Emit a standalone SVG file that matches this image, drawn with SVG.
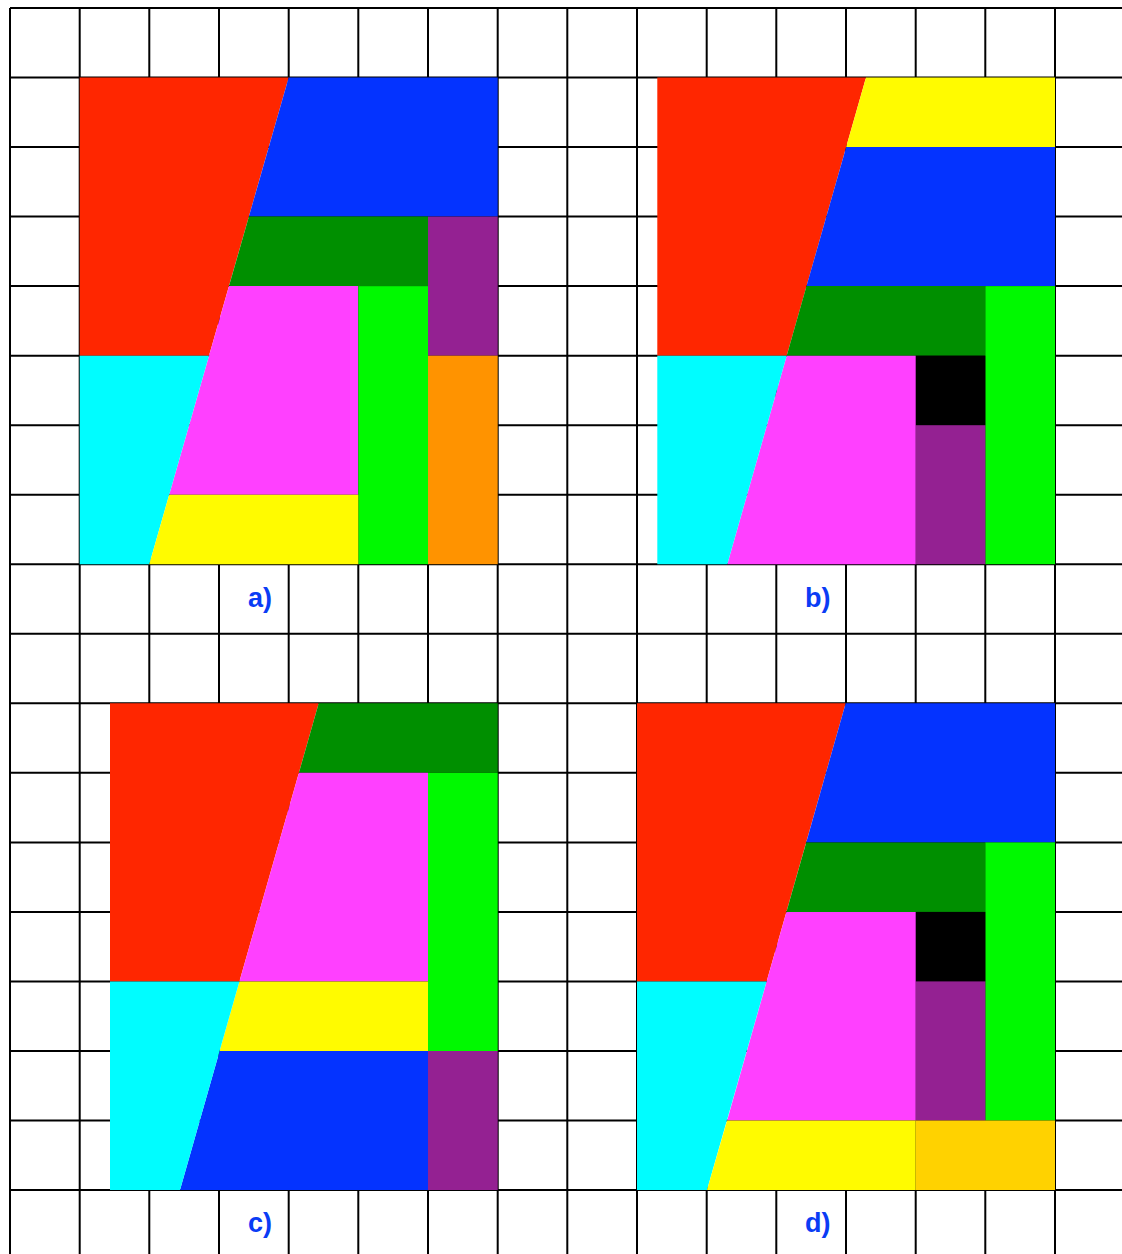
<svg xmlns="http://www.w3.org/2000/svg" width="1122" height="1254" viewBox="0 0 1122 1254">
<style>
.grid{stroke:#000;stroke-width:2;fill:none}
.red{fill:#FF2600}.blue{fill:#0433FF}.dgreen{fill:#008F00}.purple{fill:#942192}
.magenta{fill:#FF40FF}.lgreen{fill:#00F900}.orange{fill:#FF9300}.cyan{fill:#00FDFF}
.yellow{fill:#FFFB00}.black{fill:#000}.gold{fill:#FFD200}
.lbl{font-family:"Liberation Sans",Arial,sans-serif;font-weight:bold;font-size:27px;fill:#0A3CF5}
</style>
<rect width="1122" height="1254" fill="#fff"/>
<g id="grid" class="grid">
<path d="M10,8V1254M79.7,8V1254M149.3,8V1254M219,8V1254M288.7,8V1254M358.3,8V1254M428,8V1254M497.7,8V1254M567.3,8V1254M637,8V1254M706.7,8V1254M776.3,8V1254M846,8V1254M915.7,8V1254M985.3,8V1254M1055,8V1254"/>
<path d="M10,8H1122M10,77.5H1122M10,147.1H1122M10,216.6H1122M10,286.1H1122M10,355.7H1122M10,425.2H1122M10,494.7H1122M10,564.2H1122M10,633.8H1122M10,703.3H1122M10,772.8H1122M10,842.4H1122M10,911.9H1122M10,981.4H1122M10,1051H1122M10,1120.5H1122M10,1190H1122"/>
</g>
<g id="panel-a">
<polygon class="red" points="79.7,77.5 288.7,77.5 209,355.7 79.7,355.7"/>
<polygon class="blue" points="288.7,77.5 497.7,77.5 497.7,216.6 248.9,216.6"/>
<polygon class="dgreen" points="248.9,216.6 428,216.6 428,286.1 229,286.1"/>
<rect class="purple" x="428" y="216.6" width="69.7" height="139.1"/>
<polygon class="magenta" points="229,286.1 358.3,286.1 358.3,494.7 169.2,494.7"/>
<rect class="lgreen" x="358.3" y="286.1" width="69.7" height="278.1"/>
<rect class="orange" x="428" y="355.7" width="69.7" height="208.5"/>
<polygon class="cyan" points="79.7,355.7 209,355.7 149.3,564.2 79.7,564.2"/>
<polygon class="yellow" points="169.2,494.7 358.3,494.7 358.3,564.2 149.3,564.2"/>
<text class="lbl" x="248" y="607">a)</text>
</g>
<g id="panel-b">
<polygon class="red" points="657.3,77.5 866,77.5 786.7,355.7 657.3,355.7"/>
<polygon class="yellow" points="866,77.5 1055,77.5 1055,147.1 846.2,147.1"/>
<polygon class="blue" points="846.2,147.1 1055,147.1 1055,286.1 806.5,286.1"/>
<polygon class="dgreen" points="806.5,286.1 985.3,286.1 985.3,355.7 786.7,355.7"/>
<rect class="lgreen" x="985.3" y="286.1" width="69.7" height="278.1"/>
<rect class="black" x="915.7" y="355.7" width="69.6" height="69.5"/>
<rect class="purple" x="915.7" y="425.2" width="69.6" height="139"/>
<polygon class="magenta" points="786.7,355.7 915.7,355.7 915.7,564.2 727.3,564.2"/>
<polygon class="cyan" points="657.3,355.7 786.7,355.7 727.3,564.2 657.3,564.2"/>
<text class="lbl" x="805" y="607">b)</text>
</g>
<g id="panel-c">
<polygon class="red" points="110,703.3 318.7,703.3 239.4,981.4 110,981.4"/>
<polygon class="dgreen" points="318.7,703.3 497.7,703.3 497.7,772.8 298.9,772.8"/>
<polygon class="magenta" points="298.9,772.8 428,772.8 428,981.4 239.4,981.4"/>
<rect class="lgreen" x="428" y="772.8" width="69.7" height="278.2"/>
<polygon class="yellow" points="239.4,981.4 428,981.4 428,1051 219.6,1051"/>
<polygon class="blue" points="219.6,1051 428,1051 428,1190 180,1190"/>
<rect class="purple" x="428" y="1051" width="69.7" height="139"/>
<polygon class="cyan" points="110,981.4 239.4,981.4 180,1190 110,1190"/>
<text class="lbl" x="248" y="1232">c)</text>
</g>
<g id="panel-d">
<polygon class="red" points="637,703.3 845.7,703.3 766.6,981.4 637,981.4"/>
<polygon class="blue" points="845.7,703.3 1055,703.3 1055,842.4 806.2,842.4"/>
<polygon class="dgreen" points="806.2,842.4 985.3,842.4 985.3,911.9 786.4,911.9"/>
<rect class="lgreen" x="985.3" y="842.4" width="69.7" height="278.1"/>
<rect class="black" x="915.7" y="911.9" width="69.6" height="69.5"/>
<rect class="purple" x="915.7" y="981.4" width="69.6" height="139.1"/>
<polygon class="magenta" points="786.4,911.9 915.7,911.9 915.7,1120.5 727.1,1120.5"/>
<polygon class="cyan" points="637,981.4 766.6,981.4 707,1190 637,1190"/>
<polygon class="yellow" points="727.1,1120.5 915.7,1120.5 915.7,1190 707,1190"/>
<rect class="gold" x="915.7" y="1120.5" width="139.3" height="69.5"/>
<text class="lbl" x="805" y="1232">d)</text>
</g>
</svg>
